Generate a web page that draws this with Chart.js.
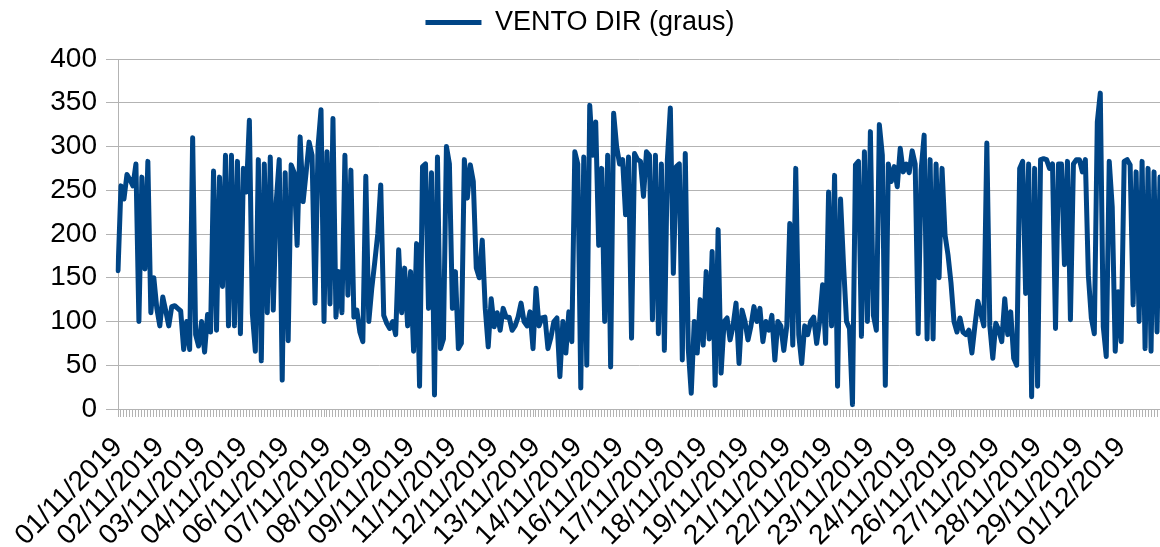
<!DOCTYPE html>
<html>
<head>
<meta charset="utf-8">
<script src="https://cdn.jsdelivr.net/npm/chart.js@4/dist/chart.umd.min.js"></script>
<style>
  html, body { margin: 0; padding: 0; background: #fff; }
  #wrap { width: 1160px; height: 547px; }
</style>
</head>
<body>
<div id="wrap"><canvas id="chart" width="1160" height="547"></canvas></div>
<script>
// series name shown in the legend
const seriesName = 'VENTO DIR (graus)';

// dates printed under the axis (one every labelStep readings)
const tickLabels = [
    '01/11/2019', '02/11/2019', '03/11/2019', '04/11/2019', '06/11/2019',
    '07/11/2019', '08/11/2019', '09/11/2019', '11/11/2019', '12/11/2019',
    '13/11/2019', '14/11/2019', '16/11/2019', '17/11/2019', '18/11/2019',
    '19/11/2019', '21/11/2019', '22/11/2019', '23/11/2019', '24/11/2019',
    '26/11/2019', '27/11/2019', '28/11/2019', '29/11/2019', '01/12/2019'
];
const labelStep = 14;

// wind direction readings (degrees)
const windDir = [
    158, 255, 240, 268, 262, 255, 280, 100, 265, 160, 283, 110, 150, 115, 95, 128, 112, 95, 117, 118,
    115, 112, 68, 100, 68, 310, 85, 72, 100, 65, 108, 88, 272,
    90, 265, 140, 290, 95, 290, 95, 283, 86, 275, 248, 330, 109, 66, 285, 55, 280, 110, 288, 113,
    237, 285, 33, 270, 78, 279, 270, 187, 311, 237, 270, 305, 290, 121, 300,
    342, 100, 294, 120, 332, 105, 157, 110, 290, 130, 273, 105, 113, 88, 77, 266, 100, 138, 168, 200,
    256, 107, 98, 92, 100, 85, 182, 110, 161, 95, 157, 66, 189, 26, 277,
    280, 115, 270, 16, 288, 69, 80, 300, 280, 115, 157, 69, 75, 285, 241, 279, 260, 161, 150, 193,
    115, 71, 126, 94, 110, 90, 115, 105, 105, 90, 95, 105, 121, 100, 95,
    111, 69, 138, 95, 104, 105, 69, 82, 100, 104, 37, 100, 64, 111, 77, 294, 280, 24, 288, 50,
    347, 290, 328, 187, 275, 100, 290, 48, 338, 300, 280, 285, 222, 288, 81,
    292, 285, 283, 243, 294, 290, 102, 290, 86, 280, 67, 285, 344, 155, 277, 280, 56, 292, 69, 18,
    100, 64, 125, 73, 157, 80, 180, 27, 205, 41, 100, 104, 79, 95, 121,
    52, 113, 100, 79, 95, 117, 100, 115, 77, 100, 90, 107, 56, 100, 95, 67, 95, 212, 73, 275,
    85, 52, 95, 85, 100, 105, 75, 100, 142, 75, 248, 95, 267, 26, 240,
    165, 100, 92, 5, 279, 283, 83, 294, 100, 317, 107, 90, 325, 290, 27, 280, 260, 277, 254, 298,
    271, 280, 270, 295, 280, 86, 273, 313, 80, 285, 80, 280, 150, 275, 199,
    176, 144, 100, 88, 104, 88, 85, 90, 64, 95, 123, 109, 95, 304, 95, 58, 98, 90, 77, 126,
    85, 111, 58, 50, 275, 283, 132, 280, 14, 275, 26, 285, 286, 285, 275,
    280, 92, 280, 280, 165, 283, 102, 280, 285, 285, 271, 285, 153, 104, 86, 328, 361, 94, 60, 283,
    231, 66, 134, 77, 283, 285, 279, 119, 271, 100, 283, 69, 275, 66, 271, 88, 265
];

const labels = windDir.map((v, i) =>
    i % labelStep === 0 ? (tickLabels[i / labelStep] || '') : '');

Chart.defaults.font.family = '"Liberation Sans", Arial, sans-serif';
Chart.defaults.color = '#000';

// leave some room between the legend and the plot
const legendGap = {
    id: 'legendGap',
    beforeInit(chart) {
        const fit = chart.legend.fit;
        chart.legend.fit = function () {
            fit.call(this);
            this.height += 13;
        };
    }
};

new Chart(document.getElementById('chart'), {
    type: 'line',
    data: {
        labels: labels,
        datasets: [{
            label: seriesName,
            data: windDir,
            borderColor: '#004586',
            backgroundColor: '#004586',
            borderWidth: 5,
            borderJoinStyle: 'round',
            borderCapStyle: 'round',
            pointRadius: 0,
            pointStyle: 'line',
            tension: 0
        }]
    },
    options: {
        responsive: false,
        animation: false,
        layout: { padding: { left: 0, right: 0, top: 1, bottom: 0 } },
        plugins: {
            legend: {
                position: 'top',
                labels: {
                    font: { size: 27 },
                    color: '#000',
                    usePointStyle: true,
                    pointStyle: 'line',
                    pointStyleWidth: 56,
                    boxHeight: 6,
                    padding: 8
                }
            },
            tooltip: { enabled: false }
        },
        scales: {
            x: {
                grid: { drawOnChartArea: false, tickLength: 8, color: '#b3b3b3' },
                border: { color: '#b3b3b3' },
                ticks: {
                    autoSkip: false,
                    minRotation: 45,
                    maxRotation: 45,
                    padding: 14,
                    font: { size: 28 },
                    color: '#000'
                },
                // rotated labels should not push the plot in from the sides
                afterFit(scale) {
                    scale.paddingLeft = 0;
                    scale.paddingRight = 0;
                    scale.height = 138;
                }
            },
            y: {
                min: 0,
                max: 400,
                ticks: { stepSize: 50, padding: 9, font: { size: 28 }, color: '#000' },
                grid: { color: '#b3b3b3', tickLength: 12 },
                border: { color: '#b3b3b3' },
                afterFit(scale) {
                    scale.width = 118;
                }
            }
        }
    },
    plugins: [legendGap]
});
</script>
</body>
</html>
